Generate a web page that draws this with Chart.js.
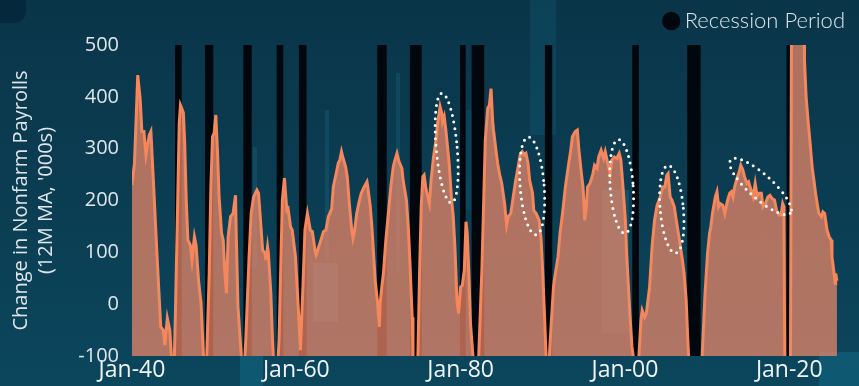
<!DOCTYPE html>
<html>
<head>
<meta charset="utf-8">
<title>Change in Nonfarm Payrolls</title>
<script src="https://cdn.jsdelivr.net/npm/chart.js@4.4.1/dist/chart.umd.min.js"></script>
<style>
  html, body { margin: 0; padding: 0; }
  body {
    width: 859px; height: 386px; overflow: hidden; position: relative;
    background: linear-gradient(180deg, #0a3549 0%, #0b3d52 50%, #0b465d 100%);
  }
  .tex { position: absolute; pointer-events: none; }
  #wrap { position: absolute; left: 0; top: 0; width: 859px; height: 386px; }
</style>
</head>
<body>
<!-- background texture -->
<div class="tex" style="left:0;top:0;width:26px;height:23px;background:#05283c;border-bottom-right-radius:12px;"></div>
<div class="tex" style="left:530px;top:0;width:26px;height:135px;background:rgba(18,100,130,0.28);"></div>
<div class="tex" style="left:253px;top:147px;width:4px;height:120px;background:rgba(30,120,150,0.25);"></div>
<div class="tex" style="left:325px;top:110px;width:4px;height:150px;background:rgba(30,120,150,0.25);"></div>
<div class="tex" style="left:396px;top:73px;width:4px;height:200px;background:rgba(30,120,150,0.25);"></div>
<div class="tex" style="left:465px;top:110px;width:7px;height:100px;background:rgba(20,100,130,0.22);"></div>
<div class="tex" style="left:313px;top:263px;width:25px;height:59px;background:rgba(40,130,160,0.35);"></div>
<div class="tex" style="left:602px;top:190px;width:27px;height:143px;background:rgba(40,130,160,0.28);"></div>
<div class="tex" style="left:240px;top:356px;width:23px;height:30px;background:rgba(20,110,140,0.45);"></div>
<div class="tex" style="left:819px;top:352px;width:40px;height:34px;background:rgba(20,110,140,0.45);"></div>

<div id="wrap"><canvas id="chart" width="859" height="386"></canvas></div>

<script>
// 12-month moving average of the monthly change in nonfarm payrolls ('000s),
// keyed by decimal year.
const payrollDates = [
  1940.00, 1940.30, 1940.70, 1941.00, 1941.20, 1941.45, 1941.70, 1942.10, 1942.30, 1942.60,
  1943.00, 1943.50, 1943.80, 1944.00, 1944.30, 1944.60, 1944.80, 1945.00, 1945.15, 1945.30,
  1945.55, 1945.75, 1945.90, 1946.05, 1946.25, 1946.40, 1946.60, 1946.80, 1947.10, 1947.30,
  1947.60, 1947.80, 1948.10, 1948.40, 1948.70, 1948.90, 1949.10, 1949.40, 1949.60, 1949.80,
  1950.00, 1950.20, 1950.40, 1950.60, 1950.90, 1951.10, 1951.30, 1951.50, 1951.70, 1952.00,
  1952.30, 1952.60, 1952.70, 1952.90, 1953.30, 1953.55, 1953.75, 1953.85, 1954.25, 1954.50,
  1954.80, 1955.20, 1955.40, 1955.60, 1955.90, 1956.20, 1956.30, 1956.50, 1956.60, 1956.90,
  1957.10, 1957.20, 1957.50, 1957.80, 1957.90, 1958.30, 1958.55, 1958.85, 1959.00, 1959.30,
  1959.50, 1959.90, 1960.10, 1960.30, 1960.50, 1960.80, 1961.05, 1961.35, 1961.70, 1961.95,
  1962.30, 1962.40, 1962.60, 1963.00, 1963.30, 1963.60, 1963.90, 1964.30, 1964.50, 1964.85,
  1965.10, 1965.30, 1965.50, 1965.70, 1966.00, 1966.20, 1966.45, 1966.75, 1966.90, 1967.10,
  1967.35, 1967.65, 1967.90, 1968.25, 1968.60, 1968.70, 1969.00, 1969.20, 1969.40, 1969.60,
  1969.90, 1970.10, 1970.20, 1970.40, 1970.60, 1970.90, 1971.20, 1971.50, 1971.80, 1972.00,
  1972.25, 1972.50, 1972.85, 1973.00, 1973.40, 1973.65, 1973.85, 1974.10, 1974.20, 1974.50,
  1974.80, 1975.00, 1975.20, 1975.40, 1975.55, 1975.75, 1975.90, 1976.20, 1976.40, 1976.70,
  1977.00, 1977.20, 1977.50, 1977.70, 1977.80, 1978.00, 1978.20, 1978.60, 1978.90, 1979.10,
  1979.30, 1979.55, 1979.75, 1980.00, 1980.20, 1980.45, 1980.65, 1980.80, 1981.00, 1981.20,
  1981.50, 1981.85, 1982.20, 1982.60, 1983.00, 1983.30, 1983.50, 1983.70, 1983.90, 1984.00,
  1984.30, 1984.50, 1984.80, 1985.00, 1985.35, 1985.60, 1985.80, 1986.10, 1986.40, 1986.70,
  1987.00, 1987.25, 1987.50, 1987.75, 1987.95, 1988.20, 1988.40, 1988.75, 1988.90, 1989.20,
  1989.55, 1989.80, 1990.00, 1990.20, 1990.40, 1990.60, 1990.80, 1991.00, 1991.30, 1991.40,
  1991.85, 1992.10, 1992.40, 1992.75, 1993.10, 1993.40, 1993.60, 1993.95, 1994.20, 1994.40,
  1994.70, 1994.90, 1995.10, 1995.30, 1995.45, 1995.75, 1996.10, 1996.30, 1996.60, 1996.80,
  1997.10, 1997.40, 1997.60, 1997.90, 1998.20, 1998.40, 1998.70, 1999.00, 1999.30, 1999.50,
  1999.70, 2000.05, 2000.20, 2000.40, 2000.60, 2000.85, 2001.00, 2001.35, 2001.70, 2001.95,
  2002.10, 2002.40, 2002.60, 2003.00, 2003.30, 2003.60, 2003.90, 2004.30, 2004.60, 2004.85,
  2005.10, 2005.25, 2005.50, 2005.70, 2006.00, 2006.25, 2006.50, 2006.75, 2007.00, 2007.20,
  2007.45, 2007.65, 2007.75, 2008.50, 2009.40, 2009.60, 2009.75, 2010.05, 2010.30, 2010.45,
  2010.65, 2011.00, 2011.20, 2011.40, 2011.60, 2011.90, 2012.15, 2012.40, 2012.50, 2012.75,
  2012.95, 2013.15, 2013.35, 2013.70, 2013.90, 2014.10, 2014.35, 2014.55, 2014.85, 2015.05,
  2015.35, 2015.60, 2015.85, 2016.10, 2016.35, 2016.60, 2016.80, 2017.10, 2017.40, 2017.65,
  2017.90, 2018.20, 2018.45, 2018.75, 2019.00, 2019.20, 2019.35, 2019.45, 2019.80, 2020.15,
  2020.28, 2021.80, 2021.85, 2022.05, 2022.30, 2022.50, 2022.80, 2023.00, 2023.20, 2023.40,
  2023.60, 2023.90, 2024.10, 2024.30, 2024.60, 2024.85, 2025.10, 2025.20, 2025.40, 2025.60,
  2025.65, 2025.80
];
const payrollChange = [
   230,  272,  442,  394,  333,  333,  288,  326,  333,  239,
   108,  -44,  -50,  -79,  -27,  -50, -102, -190, -110,   -5,
   188,  349,  384,  378,  369,  317,  201,  124,  114,   85,
   130,  114,   46,    2, -100, -180, -100,   60,  226,  323,
   330,  365,  297,  207,  137,  124,   60,   21,  130,  169,
   175,  210,  124,   -5, -100, -180, -100,  -69,   91,  175,
   207,  220,  214,  171,  104,   98,   85,  111,   98,   21,
   -69, -100, -190, -100,  -69,  201,  243,  181,  184,  149,
   143,   91,   33,  -25,  -89,   30,  143,  175,  143,  140,
   101,   95,  104,  124,  140,  143,  169,  184,  226,  252,
   272,  278,  294,  281,  265,  246,  194,  143,  127,  143,
   175,  198,  214,  226,  236,  226,  188,  149,   98,   46,
     1,  -44,    1,   33,   59,  124,  175,  226,  265,  278,
   291,  275,  262,  239,  201,  143,   72,  -25, -100, -180,
  -100,   59,  188,  246,  249,  226,  214,  194,  239,  284,
   317,  349,  381,  368,  352,  362,  336,  272,  201,  169,
   111,    8,  -18,   33,   36,   66,  159,  137,   59,  -37,
  -100, -200, -100,   72,  317,  378,  384,  416,  352,  336,
   297,  272,  246,  233,  194,  153,  169,  175,  207,  239,
   265,  288,  294,  288,  291,  272,  239,  214,  181,  175,
   162,  124,   59,  -18, -100, -150, -100,  -44,   33,   46,
    91,  137,  175,  226,  265,  297,  323,  333,  336,  297,
   252,  226,  162,  188,  226,  233,  252,  268,  262,  284,
   297,  281,  294,  272,  252,  278,  284,  281,  291,  278,
   239,  162,   98,   40,  -18,  -82, -100, -180, -100,  -31,
   -12,  -25,  -18,   33,  111,  162,  190,  207,  226,  226,
   249,  252,  207,  201,  188,  162,  137,  111,   85,   59,
     8,  -69, -100, -260, -100,  -30,   21,   98,  137,  149,
   175,  207,  217,  188,  194,  191,  175,  194,  201,  214,
   217,  207,  226,  246,  255,  268,  259,  246,  233,  236,
   220,  207,  233,  207,  214,  214,  188,  194,  207,  210,
   204,  201,  181,  172,  172,  194,  188, -100, -600, -100,
   580,  580,  471,  400,  351,  317,  262,  239,  214,  194,
   175,  169,  178,  175,  143,  130,  124,   91,   66,   40,
    59,   45
];

// Recession periods (decimal years).
const recessionStart = [1945.23, 1948.88, 1953.55, 1957.61, 1960.32, 1969.85, 1973.83, 1979.92, 1981.34, 1990.26, 2000.89, 2007.58, 2019.67];
const recessionEnd   = [1946.05, 1949.89, 1954.57, 1958.41, 1961.24, 1971.00, 1975.26, 1980.61, 1982.87, 1991.15, 2001.70, 2009.21, 2020.08];

// Axis ticks.
const yTicks = [-100, 0, 100, 200, 300, 400, 500];
const xTickYears = [1940, 1960, 1980, 2000, 2020];
const xTickLabels = ['Jan-40', 'Jan-60', 'Jan-80', 'Jan-00', 'Jan-20'];

const Y_MIN = -100, Y_MAX = 500;

// Late-cycle peaks circled with dotted rings (centre in data units, radii in px).
const callouts = [
  { year: 1978.3, value: 301, rx: 10.5, ry: 55, rot: -5 },
  { year: 1988.7, value: 228, rx: 12,   ry: 49, rot: -4.5 },
  { year: 1999.6, value: 227, rx: 11.5, ry: 47, rot: -4 },
  { year: 2005.7, value: 183, rx: 11.6, ry: 44, rot: -5 },
  { year: 2016.5, value: 227, rx: 40,   ry: 12, rot: 42 }
];

const payrollPoints = payrollDates.map((x, i) => ({ x, y: payrollChange[i] }));

// Recession shading as a filled step outline that sits on the axis floor between periods.
const recessionPoints = [];
recessionStart.forEach((s, i) => {
  const e = recessionEnd[i];
  recessionPoints.push({ x: s, y: Y_MIN }, { x: s, y: Y_MAX }, { x: e, y: Y_MAX }, { x: e, y: Y_MIN });
});

// Fixed legend band height so the plot starts right under it.
const legendBand = {
  id: 'legendBand',
  beforeInit(chart) {
    const legend = chart.legend;
    if (!legend) return;
    const fit = legend.fit;
    legend.fit = function () { fit.call(this); this.height = 45; };
  }
};

// Dotted rings around the late-cycle peaks.
const dottedRings = {
  id: 'dottedRings',
  afterDatasetsDraw(chart) {
    const { ctx, scales: { x, y } } = chart;
    ctx.save();
    ctx.strokeStyle = '#ffffff';
    ctx.lineWidth = 3;
    ctx.lineCap = 'round';
    ctx.setLineDash([0, 6.6]);
    callouts.forEach(c => {
      ctx.beginPath();
      ctx.ellipse(x.getPixelForValue(c.year), y.getPixelForValue(c.value), c.rx, c.ry, c.rot * Math.PI / 180, 0, Math.PI * 2);
      ctx.stroke();
    });
    ctx.restore();
  }
};

new Chart(document.getElementById('chart'), {
  type: 'line',
  data: {
    datasets: [
      {
        label: 'Change in Nonfarm Payrolls',
        data: payrollPoints,
        borderColor: '#f5875d',
        borderWidth: 3,
        backgroundColor: 'rgba(240,136,104,0.72)',
        fill: 'start',
        pointRadius: 0,
        tension: 0,
        order: 0
      },
      {
        label: 'Recession Period',
        data: recessionPoints,
        borderColor: 'rgba(0,0,0,0)',
        borderWidth: 0,
        backgroundColor: '#02060d',
        fill: 'start',
        pointRadius: 0,
        tension: 0,
        order: 1
      }
    ]
  },
  options: {
    responsive: false,
    animation: false,
    events: [],
    layout: { padding: { left: 0, right: 4, top: 0, bottom: 0 } },
    plugins: {
      legend: {
        position: 'top',
        align: 'end',
        labels: {
          filter: item => item.datasetIndex === 1,
          usePointStyle: true,
          pointStyle: 'circle',
          boxWidth: 5,
          boxHeight: 13,
          padding: 10,
          color: '#dde5e9',
          font: { family: 'Lato', size: 22, weight: '300' }
        }
      },
      tooltip: { enabled: false }
    },
    scales: {
      x: {
        type: 'linear',
        min: 1940,
        max: 2028,
        afterBuildTicks: scale => { scale.ticks = xTickYears.map(v => ({ value: v })); },
        afterFit: scale => { scale.height = 30; },
        ticks: {
          callback: v => xTickLabels[xTickYears.indexOf(v)],
          color: '#f1f4f6',
          font: { family: 'Open Sans', size: 23 },
          padding: 1,
          maxRotation: 0,
          autoSkip: false
        },
        grid: { display: false, drawTicks: false },
        border: { display: false }
      },
      y: {
        min: Y_MIN,
        max: Y_MAX,
        afterBuildTicks: scale => { scale.ticks = yTicks.map(v => ({ value: v })); },
        afterFit: scale => { scale.width = 132; },
        ticks: {
          color: '#dfe6ea',
          font: { family: 'Open Sans', size: 20 },
          padding: 13
        },
        grid: { display: false, drawTicks: false },
        border: { display: false },
        title: {
          display: true,
          text: ['Change in Nonfarm Payrolls', "(12M MA, '000s)"],
          color: '#dfe6ea',
          font: { family: 'Open Sans', size: 20, lineHeight: 1.25 },
          padding: { top: 9, bottom: 0 }
        }
      }
    }
  },
  plugins: [legendBand, dottedRings]
});
</script>
</body>
</html>
